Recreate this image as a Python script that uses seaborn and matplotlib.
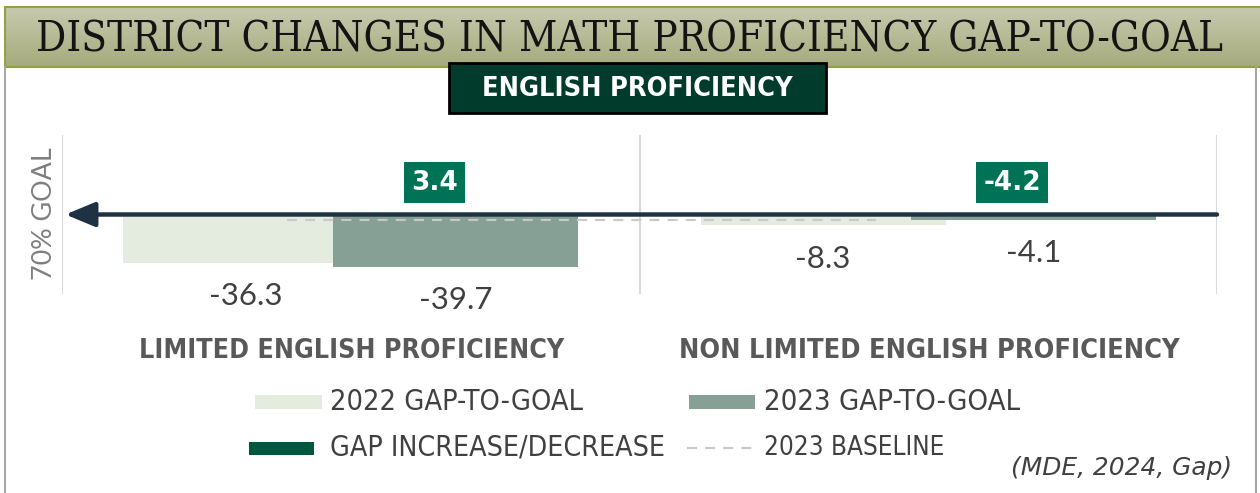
import numpy as np
import pandas as pd
import matplotlib
matplotlib.use("Agg")
import matplotlib.pyplot as plt
import seaborn as sns
from matplotlib.patches import Rectangle
from matplotlib.colors import LinearSegmentedColormap

# ---------------- data ----------------
categories = ["LIMITED ENGLISH PROFICIENCY", "NON LIMITED ENGLISH PROFICIENCY"]
gap_2022 = [-36.3, -8.3]
gap_2023 = [-39.7, -4.1]
gap_change_labels = ["3.4", "-4.2"]
baseline_2023 = -4.1
legend_labels = ["2022 GAP-TO-GOAL", "2023 GAP-TO-GOAL", "GAP INCREASE/DECREASE", "2023 BASELINE"]
title = "DISTRICT CHANGES IN MATH PROFICIENCY GAP-TO-GOAL"
subtitle = "ENGLISH PROFICIENCY"
source = "(MDE, 2024, Gap)"

C22 = "#e4ecdf"
C23 = "#86a095"
CARROW = "#1f3244"
CBOX = "#007256"
CSUB = "#003b2c"
CLEG = "#00573f"
CTXT = "#404040"

sns.set_theme(style="white")
plt.rcParams["font.family"] = ["DejaVu Sans"]

fig = plt.figure(figsize=(12.6, 4.93), dpi=100)
renderer = fig.canvas.get_renderer()


def fit(t, target, vertical=False):
    bb = t.get_window_extent(renderer)
    cur = bb.height if vertical else bb.width
    t.set_fontsize(t.get_fontsize() * target / cur)
    return t


# background / decoration axes in pixel coordinates
bg = fig.add_axes([0, 0, 1, 1])
bg.set_xlim(0, 1260)
bg.set_ylim(493, 0)
bg.axis("off")

cmap = LinearSegmentedColormap.from_list("olive", ["#c7caae", "#a5ab7d"])
grad = np.linspace(0, 1, 100)[:, None]
bg.imshow(grad, extent=[5, 1260, 67, 7], aspect="auto", cmap=cmap, zorder=0)
bg.set_xlim(0, 1260)
bg.set_ylim(493, 0)
bg.plot([5, 1260], [7, 7], color="#93a044", lw=1.5, zorder=1)
bg.plot([5, 1260], [67, 67], color="#93a044", lw=1.5, zorder=1)
bg.plot([5, 5], [7, 67], color="#93a044", lw=1.5, zorder=1)
bg.plot([5, 5], [67, 493], color="#a6a6a6", lw=1.5, zorder=1)
bg.plot([1256, 1256], [67, 493], color="#a6a6a6", lw=1.5, zorder=1)

t = bg.text(630, 39, title, ha="center", va="center", color="#141414",
            family="DejaVu Serif", fontstretch="condensed", fontsize=30, zorder=2)
fit(t, 1185)

bg.add_patch(Rectangle((449, 63), 377, 50, fc=CSUB, ec="black", lw=2, zorder=3))
t = bg.text(637.5, 89, subtitle, ha="center", va="center", color="white",
            family=["Liberation Sans Narrow", "DejaVu Sans"], fontweight="bold",
            fontstretch="condensed", fontsize=18, zorder=4)
fit(t, 310)

t = bg.text(45, 214, "70% GOAL", rotation=90, ha="center", va="center",
            color="#7f7f7f", family=["Lato", "DejaVu Sans"], fontsize=16)
fit(t, 133, vertical=True)

# ---------------- chart axes ----------------
ax = fig.add_axes([62 / 1260, 1 - 294 / 493, 1155 / 1260, 159 / 493])
ax.patch.set_alpha(0)

idx = np.arange(len(categories))
df22 = pd.DataFrame({"x": idx - 0.182, "v": gap_2022})
df23 = pd.DataFrame({"x": idx + 0.182, "v": gap_2023})
sns.barplot(data=df22, x="x", y="v", native_scale=True, width=0.424, color=C22,
            saturation=1, errorbar=None, linewidth=0, ax=ax, zorder=2)
sns.barplot(data=df23, x="x", y="v", native_scale=True, width=0.424, color=C23,
            saturation=1, errorbar=None, linewidth=0, ax=ax, zorder=2)

ax.set_xlim(-0.5, 1.5)
ax.set_ylim(-60, 60)
ax.axis("off")

for xv in [-0.5, 0.5, 1.5]:
    ax.axvline(xv, color="#d9d9d9", lw=1.5, zorder=1)

ax.plot([-0.11, 0.91], [baseline_2023, baseline_2023], ls=(0, (4.8, 3.9)),
        color="#c8c8c8", lw=1.5, zorder=3)

ax.annotate("", xy=(-0.494, 0), xytext=(1.5, 0),
            arrowprops=dict(arrowstyle="-|>,head_length=1.2,head_width=0.5",
                            mutation_scale=15, lw=3.2, color=CARROW,
                            shrinkA=0, shrinkB=0), zorder=5)

for xs, vals in [(idx - 0.182, gap_2022), (idx + 0.182, gap_2023)]:
    for x, v in zip(xs, vals):
        ax.annotate(f"{v}", xy=(x, v), xytext=(0, -24), textcoords="offset points",
                    ha="center", va="center", color=CTXT, fontsize=22.5,
                    family=["Lato", "DejaVu Sans"], zorder=6)

for i, lbl in enumerate(gap_change_labels):
    ax.text(i + 0.145, 24, lbl, ha="center", va="center", color="white",
            fontweight="bold", fontsize=19,
            family=["Liberation Sans Narrow", "DejaVu Sans"],
            bbox=dict(boxstyle="square,pad=0.28", fc=CBOX, ec="none"), zorder=6)

# ---------------- category labels ----------------
for cx, cat, w in [(352, categories[0], 423), (929, categories[1], 499)]:
    t = bg.text(cx, 351, cat, ha="center", va="center", color="#595959",
                family=["Liberation Sans Narrow", "DejaVu Sans"], fontweight="bold",
                fontstretch="condensed", fontsize=18)
    fit(t, w)

# ---------------- legend ----------------
bg.add_patch(Rectangle((255, 395), 67, 14, fc=C22, ec="none"))
bg.add_patch(Rectangle((689, 395), 66, 14, fc=C23, ec="none"))
bg.add_patch(Rectangle((249, 442), 65, 13, fc=CLEG, ec="none"))
bg.plot([687, 752], [448, 448], ls=(0, (4.8, 3.9)), color="#c8c8c8", lw=1.5)

for (x0, y0, w), lbl in zip([(330, 402, 253), (764, 402, 256), (330, 448, 336), (764, 448, 181)],
                            legend_labels):
    t = bg.text(x0, y0, lbl, ha="left", va="center", color=CTXT,
                family=["Liberation Sans Narrow", "DejaVu Sans"],
                fontstretch="condensed", fontsize=18)
    fit(t, w)

t = bg.text(1232, 468, source, ha="right", va="center", color=CTXT,
            family="DejaVu Sans", style="italic", fontsize=14)
fit(t, 222)

fig.savefig("out.png", dpi=100)
